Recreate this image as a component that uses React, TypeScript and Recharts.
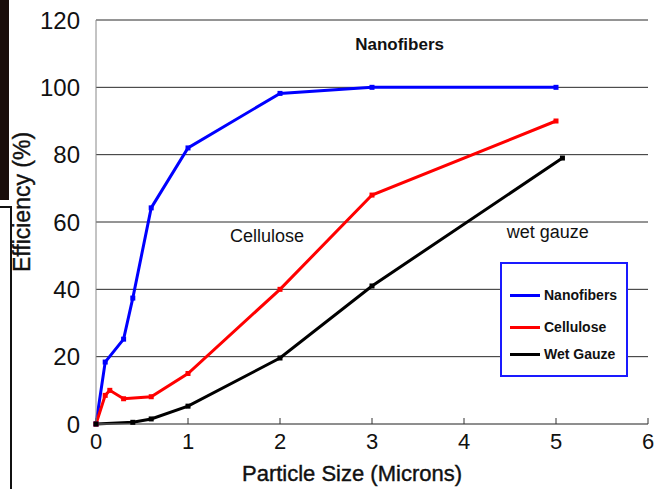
import { LineChart, Line, XAxis, YAxis, CartesianGrid, ReferenceDot } from "recharts";

// values (x in microns, y in %)
const nanofiberX = [0, 0.1, 0.3, 0.4, 0.6, 1, 2, 3, 5];
const nanofiberY = [0, 18.4, 25.2, 37.4, 64.2, 82, 98.2, 100, 100];
const celluloseX = [0, 0.1, 0.15, 0.3, 0.6, 1, 2, 3, 5];
const celluloseY = [0, 8.5, 10, 7.5, 8.1, 15, 40, 68, 90];
const gauzeX = [0, 0.4, 0.6, 1, 2, 3, 5.07];
const gauzeY = [0, 0.5, 1.5, 5.3, 19.6, 41, 79];

const xTicks = [0, 1, 2, 3, 4, 5, 6];
const yTicks = [0, 20, 40, 60, 80, 100, 120];

const seriesNames = ["Nanofibers", "Cellulose", "Wet Gauze"];
const seriesColors = ["#0000ff", "#ff0000", "#000000"];

const notes = [
  { x: 3.3, y: 112.9, text: "Nanofibers", bold: true, size: 17 },
  { x: 1.86, y: 56, text: "Cellulose", bold: false, size: 18 },
  { x: 4.91, y: 57, text: "wet gauze", bold: false, size: 18 },
];

const toPoints = (xs: number[], ys: number[]) => xs.map((x, i) => ({ x, y: ys[i] }));

const FONT = '"Liberation Sans", Arial, sans-serif';

const squareDot = (color: string) => (props: any) => {
  const { cx, cy, index } = props;
  return <rect key={index} x={cx - 2.5} y={cy - 2.5} width={5} height={5} fill={color} />;
};

const YLabel = (props: any) => {
  const { x, y } = props.viewBox;
  const cx = x + 22;
  const cy = y + 182;
  return (
    <text
      x={cx}
      y={cy}
      transform={`rotate(-90, ${cx}, ${cy})`}
      textAnchor="middle"
      dominantBaseline="central"
      fontSize={23}
      fill="#111"
      stroke="#111"
      strokeWidth={0.4}
      fontFamily={FONT}
    >
      Efficiency (%)
    </text>
  );
};

export default function App() {
  const series = [
    toPoints(nanofiberX, nanofiberY),
    toPoints(celluloseX, celluloseY),
    toPoints(gauzeX, gauzeY),
  ];

  return (
    <div style={{ position: "absolute", left: 0, top: 0, width: 656, height: 489, background: "#fff", fontFamily: FONT }}>
      {/* bits of the page behind the figure on the left edge */}
      <div style={{ position: "absolute", left: 0, top: 0, width: 9, height: 200, background: "#1a0d0a" }} />
      <div style={{ position: "absolute", left: -4, top: 206, width: 12, height: 300, border: "2px solid #111" }} />

      <LineChart width={656} height={489} margin={{ top: 20, right: 8, bottom: 0, left: 0 }}>
        <CartesianGrid vertical={false} stroke="#2a2a2a" />
        <XAxis
          type="number"
          dataKey="x"
          domain={[0, 6]}
          ticks={xTicks}
          height={65}
          axisLine={{ stroke: "#888" }}
          tickLine={{ stroke: "#333" }}
          tickSize={-6}
          tickMargin={15}
          tick={{ fontSize: 22, fill: "#111", fontFamily: FONT }}
          label={{
            value: "Particle Size (Microns)",
            position: "insideBottom",
            offset: 8,
            dx: -20,
            fontSize: 22,
            fill: "#111",
            stroke: "#111",
            strokeWidth: 0.4,
            fontFamily: FONT,
          }}
        />
        <YAxis
          type="number"
          domain={[0, 120]}
          ticks={yTicks}
          width={96}
          axisLine={{ stroke: "#888" }}
          tickLine={false}
          tickMargin={10}
          tick={{ fontSize: 24, fill: "#111", fontFamily: FONT }}
          label={<YLabel />}
        />
        {series.map((data, i) => (
          <Line
            key={seriesNames[i]}
            data={data}
            dataKey="y"
            name={seriesNames[i]}
            type="linear"
            stroke={seriesColors[i]}
            strokeWidth={3}
            dot={squareDot(seriesColors[i])}
            activeDot={false}
            isAnimationActive={false}
          />
        ))}
        {notes.map((n) => (
          <ReferenceDot
            key={n.text}
            x={n.x}
            y={n.y}
            r={0}
            stroke="none"
            fill="none"
            label={{ value: n.text, position: "center", fontSize: n.size, fontWeight: n.bold ? "bold" : "normal", fill: "#111", fontFamily: FONT }}
          />
        ))}
      </LineChart>

      <div
        style={{
          position: "absolute",
          left: 500,
          top: 262,
          width: 128,
          height: 115,
          boxSizing: "border-box",
          border: "2px solid #1a1aff",
          background: "#fff",
        }}
      >
        {seriesNames.map((name, i) => (
          <div
            key={name}
            style={{
              position: "absolute",
              left: 8,
              top: [21, 53, 80][i],
              height: 20,
              display: "flex",
              alignItems: "center",
              fontSize: 14,
              fontWeight: "bold",
              color: "#111",
              whiteSpace: "nowrap",
            }}
          >
            <span style={{ display: "inline-block", width: 30, height: 3, background: seriesColors[i], marginRight: 4 }} />
            {name}
          </div>
        ))}
      </div>
    </div>
  );
}
